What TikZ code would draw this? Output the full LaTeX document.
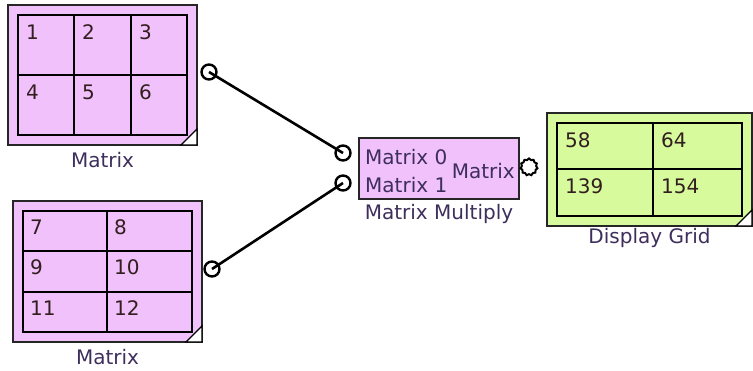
\documentclass[tikz,border=0pt]{standalone}
\usepackage{fontspec}
\setmainfont{DejaVu Sans}
\usetikzlibrary{shapes.geometric}
\definecolor{blockpink}{RGB}{241,193,251}
\definecolor{gridgreen}{RGB}{214,250,156}
\definecolor{labelink}{RGB}{62,46,92}
\definecolor{cellink}{RGB}{50,30,30}
\begin{document}
\begin{tikzpicture}[x=1pt,y=-1pt,
  block/.style={draw=black!85,line width=2pt},
  cellline/.style={draw=black,line width=1.8pt},
  corner/.style={fill=white,draw=black,line width=1.2pt},
  port/.style={circle,draw,line width=2.4pt,fill=white,minimum size=15pt,inner sep=0pt},
  outport/.style={star,star points=11,star point ratio=1.18,draw,line width=2pt,fill=white,minimum size=17pt,inner sep=0pt},
  wire/.style={line width=2.6pt},
  num/.style={anchor=base west,inner sep=0pt,text=cellink,font=\fontsize{20}{22}\selectfont},
  lbl/.style={inner sep=0pt,text=labelink,font=\fontsize{20}{22}\selectfont}]
\useasboundingbox (0,0) rectangle (753,370);

% top matrix
\fill[blockpink] (8,5) rectangle (197,145);
\draw[block] (8,5) rectangle (197,145);
\draw[corner] (197,129) -- (197,145) -- (181,145) -- cycle;
\draw[cellline] (18,15) rectangle (187,135);
\draw[cellline] (74,15) -- (74,135);
\draw[cellline] (131,15) -- (131,135);
\draw[cellline] (18,75) -- (187,75);
\foreach \n/\x/\y in {1/18/15,2/74/15,3/131/15,4/18/75,5/74/75,6/131/75}
  \node[num] (ma\n) at (\x+8,\y+24) {\n};
\node[lbl] (malabel) at (102.5,160) {Matrix};

% bottom matrix
\fill[blockpink] (13,201) rectangle (202,342);
\draw[block] (13,201) rectangle (202,342);
\draw[corner] (202,326) -- (202,342) -- (186,342) -- cycle;
\draw[cellline] (23,211) rectangle (192,332);
\draw[cellline] (107,211) -- (107,332);
\draw[cellline] (23,251) -- (192,251);
\draw[cellline] (23,292) -- (192,292);
\foreach \n/\x/\y in {7/23/211,8/107/211,9/23/251,10/107/251,11/23/292,12/107/292}
  \node[num] (mb\n) at (\x+7,\y+23) {\n};
\node[lbl] (mblabel) at (107.5,357) {Matrix};

% matrix multiply
\fill[blockpink] (359,138) rectangle (519,199);
\draw[block] (359,138) rectangle (519,199);
\node[num,text=labelink] (in0text) at (365,164) {Matrix 0};
\node[num,text=labelink] (in1text) at (365,192) {Matrix 1};
\node[num,anchor=base east,text=labelink] (outtext) at (515,178) {Matrix};
\node[lbl] (mullabel) at (439,214) {Matrix Multiply};

% display grid
\fill[gridgreen] (547,113) rectangle (752,226);
\draw[block] (547,113) rectangle (752,226);
\draw[corner] (752,210) -- (752,226) -- (736,226) -- cycle;
\draw[cellline] (557,123) rectangle (742,216);
\draw[cellline] (653,123) -- (653,216);
\draw[cellline] (557,169) -- (742,169);
\foreach \n/\x/\y in {58/557/123,64/653/123,139/557/169,154/653/169}
  \node[num] (dg\n) at (\x+8,\y+24) {\n};
\node[lbl] (dglabel) at (649.5,238) {Display Grid};

% ports
\node[port] (maout) at (209,72) {};
\node[port] (mbout) at (212,269) {};
\node[port] (mulin0) at (343,153) {};
\node[port] (mulin1) at (343,183) {};
\node[outport] (mulout) at (529,167) {};

% wires
\draw[wire] (maout.center) -- (mulin0.center);
\draw[wire] (mbout.center) -- (mulin1.center);
\end{tikzpicture}
\end{document}
